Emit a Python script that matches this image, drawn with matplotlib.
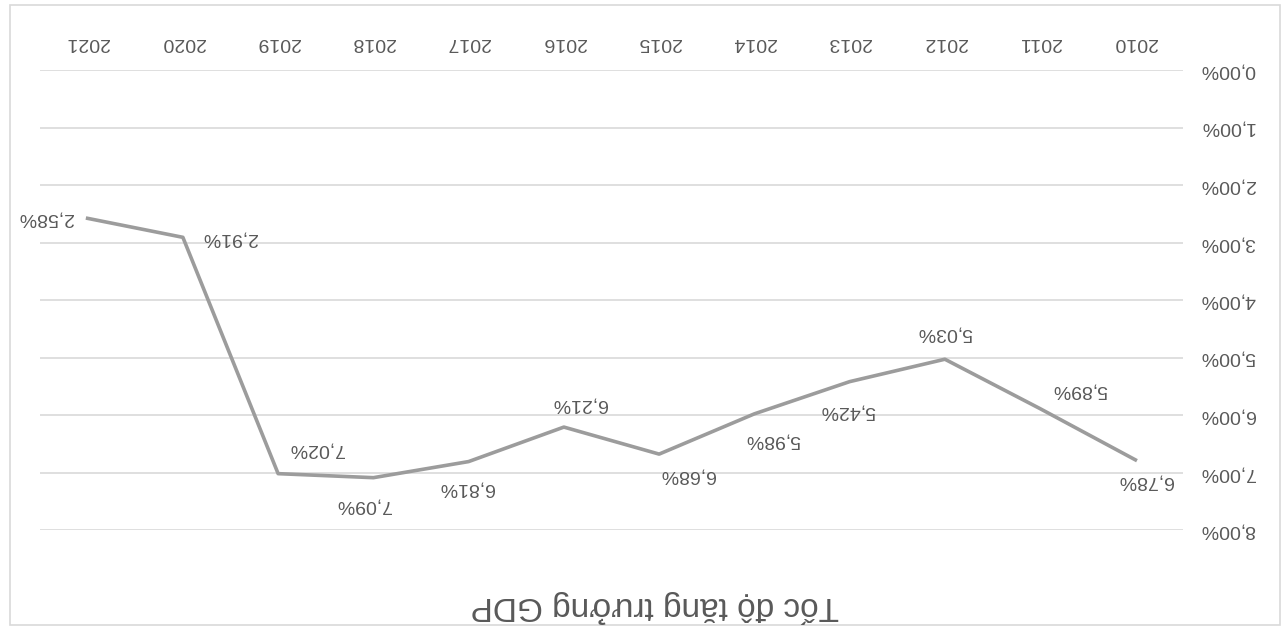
import matplotlib
matplotlib.use("Agg")
import matplotlib.pyplot as plt
from matplotlib.patches import Rectangle

# Data
years = ["2010", "2011", "2012", "2013", "2014", "2015", "2016", "2017", "2018", "2019", "2020", "2021"]
growth = [6.78, 5.89, 5.03, 5.42, 5.98, 6.68, 6.21, 6.81, 7.09, 7.02, 2.91, 2.58]
y_ticks = [0, 1, 2, 3, 4, 5, 6, 7, 8]
y_tick_labels = ["0,00%", "1,00%", "2,00%", "3,00%", "4,00%", "5,00%", "6,00%", "7,00%", "8,00%"]
title = "Tốc độ tăng trưởng GDP"

# Layout only: label offsets in pixels
label_offsets = [(10, -21), (40, 19), (0, 26), (-2, -29), (18, -26), (28, -21),
                 (15, 23), (-2, -26), (-10, -27), (38, 25), (47, -1), (-42, 0)]

plt.rcParams['font.family'] = ['Liberation Sans', 'DejaVu Sans']
text_color = "#595959"

W, H = 1285, 631
fig = plt.figure(figsize=(W / 100, H / 100), dpi=100)
fig.patch.set_facecolor("white")

# Chart-area border
fig.patches.append(Rectangle((10 / W, 6 / H), 1270 / W, 620 / H, transform=fig.transFigure,
                             fill=False, edgecolor="#d9d9d9", linewidth=1.2))

left, right, top, bottom = 40, 1183, 70, 530
ax = fig.add_axes([left / W, 1 - bottom / H, (right - left) / W, (bottom - top) / H])

x = list(range(len(years)))
ax.plot(x, growth, color="#9c9c9c", linewidth=2.6, solid_joinstyle="round", zorder=3)

ax.set_xlim(len(years) - 0.5, -0.5)
ax.set_ylim(8, 0)

ax.set_yticks(y_ticks)
ax.set_yticklabels(y_tick_labels, rotation=180, color=text_color, fontsize=14)
ax.yaxis.tick_right()
ax.tick_params(axis="y", length=0, pad=12)
for lbl in ax.get_yticklabels():
    lbl.set_ha("left")
    lbl.set_va("center")

ax.set_xticks(x)
ax.set_xticklabels(years, rotation=180, color=text_color, fontsize=14)
ax.xaxis.tick_top()
ax.tick_params(axis="x", length=0, pad=14)

ax.grid(axis="y", color="#d9d9d9", linewidth=1.2)
ax.grid(axis="x", visible=False)
ax.set_axisbelow(True)
for s in ax.spines.values():
    s.set_visible(False)

for xi, v, off in zip(x, growth, label_offsets):
    ax.annotate(f"{v:.2f}%".replace(".", ","), (xi, v), xytext=off, textcoords="offset pixels",
                rotation=180, ha="center", va="center", color=text_color, fontsize=14)

fig.text(655 / W, 1 - 606 / H, title, rotation=180, ha="center", va="center",
         color=text_color, fontsize=24)

fig.savefig("out.png", dpi=100, facecolor="white")
